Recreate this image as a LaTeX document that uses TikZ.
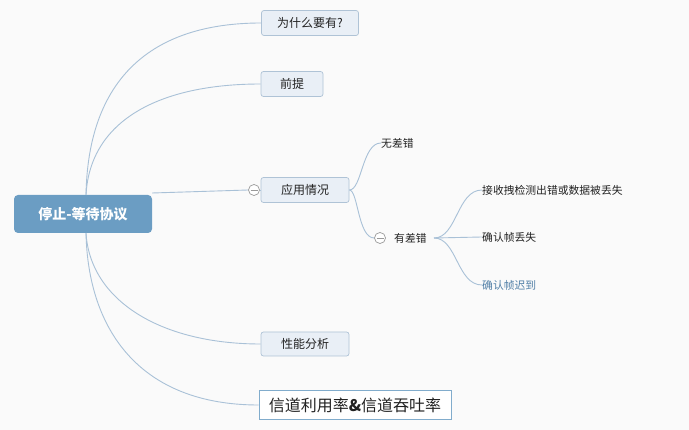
\documentclass[tikz,border=0pt]{standalone}
\usepackage{fontspec}
\setmainfont{Noto Sans CJK SC}
\newfontfamily\cjk{Noto Sans CJK SC}
\begin{document}
\begin{tikzpicture}[x=1pt,y=-1pt,
  conn/.style={draw=linec, line width=0.9pt},
  topicbox/.style={draw=boxline, fill=boxfill, rounded corners=2.5pt, line width=0.7pt, font=\cjk\fontsize{12}{14}\selectfont, text=textc, inner sep=0pt, minimum height=25pt},
  plain/.style={font=\cjk\fontsize{10.8}{12}\selectfont, text=textc, inner sep=0pt},
  fold/.style={circle, draw=foldc, fill=white, line width=0.7pt, minimum size=11pt, inner sep=0pt}
]
\definecolor{linec}{HTML}{A9C1D7}
\definecolor{boxline}{HTML}{AFC3D6}
\definecolor{boxfill}{HTML}{E9EFF6}
\definecolor{textc}{HTML}{222222}
\definecolor{rootc}{HTML}{6B9DC3}
\definecolor{foldc}{HTML}{999999}
\definecolor{bluetext}{HTML}{4F7EA6}
\fill[fill=black!2] (0,0) rectangle (689,430);
\useasboundingbox (0,0) rectangle (689,430);

% nodes
\node[fill=rootc, rounded corners=4pt, minimum width=138pt, minimum height=38pt, inner sep=0pt, text=white, font=\cjk\bfseries\fontsize{14}{16}\selectfont] (root) at (83,214) {停止-等待协议};
\node[topicbox, minimum width=97pt] (why) at (310,23) {为什么要有?};
\node[topicbox, minimum width=62pt] (pre) at (292,84) {前提};
\node[topicbox, minimum width=88pt] (app) at (305,190) {应用情况};
\node[topicbox, minimum width=88pt, minimum height=24pt] (perf) at (305,344) {性能分析};
\node[draw=rootc!85, fill=white, line width=0.8pt, minimum width=192pt, minimum height=29pt, inner sep=0pt, font=\cjk\fontsize{16}{18}\selectfont, text=textc] (chan) at (355,405) {信道利用率\textbf{\&}信道吞吐率};

\node[fold] (f1) at (254,190) {};
\draw[foldc, line width=0.7pt] ([xshift=-3.5pt]f1.center) -- ([xshift=3.5pt]f1.center);

\node[plain, anchor=west] (noerr) at (381,143) {无差错};
\node[fold] (f2) at (380,238) {};
\draw[foldc, line width=0.7pt] ([xshift=-3.5pt]f2.center) -- ([xshift=3.5pt]f2.center);
\node[plain, anchor=west] (err) at (394,238) {有差错};

\node[plain, anchor=west] (e1) at (482,190) {接收拽检测出错或数据被丢失};
\node[plain, anchor=west] (e2) at (482,237) {确认帧丢失};
\node[plain, anchor=west, text=bluetext] (e3) at (482,285) {确认帧迟到};

% connectors from root
\coordinate (rt) at (86,195);
\coordinate (rb) at (86,233);
\draw[conn] (rt) .. controls (88,80) and (150,23) .. (why.west);
\draw[conn] (rt) .. controls (90,120) and (160,84) .. (pre.west);
\draw[conn] (root.east |- 0,193) .. controls (200,192) .. (f1.west);
\draw[conn] (f1.east) -- (app.west);
\draw[conn] (rb) .. controls (90,300) and (160,344) .. (perf.west);
\draw[conn] (rb) .. controls (88,330) and (140,405) .. (chan.west);

% from app
\draw[conn] (app.east) .. controls (362,190) and (362,143) .. (noerr.west);
\draw[conn] (app.east) .. controls (358,190) and (358,238) .. (f2.west);

% from err
\coordinate (eo) at (434,238);
\draw[conn] (eo) .. controls (457,238) and (457,190) .. (e1.west);
\draw[conn] (eo) -- (e2.west);
\draw[conn] (eo) .. controls (457,238) and (457,285) .. (e3.west);
\end{tikzpicture}
\end{document}
